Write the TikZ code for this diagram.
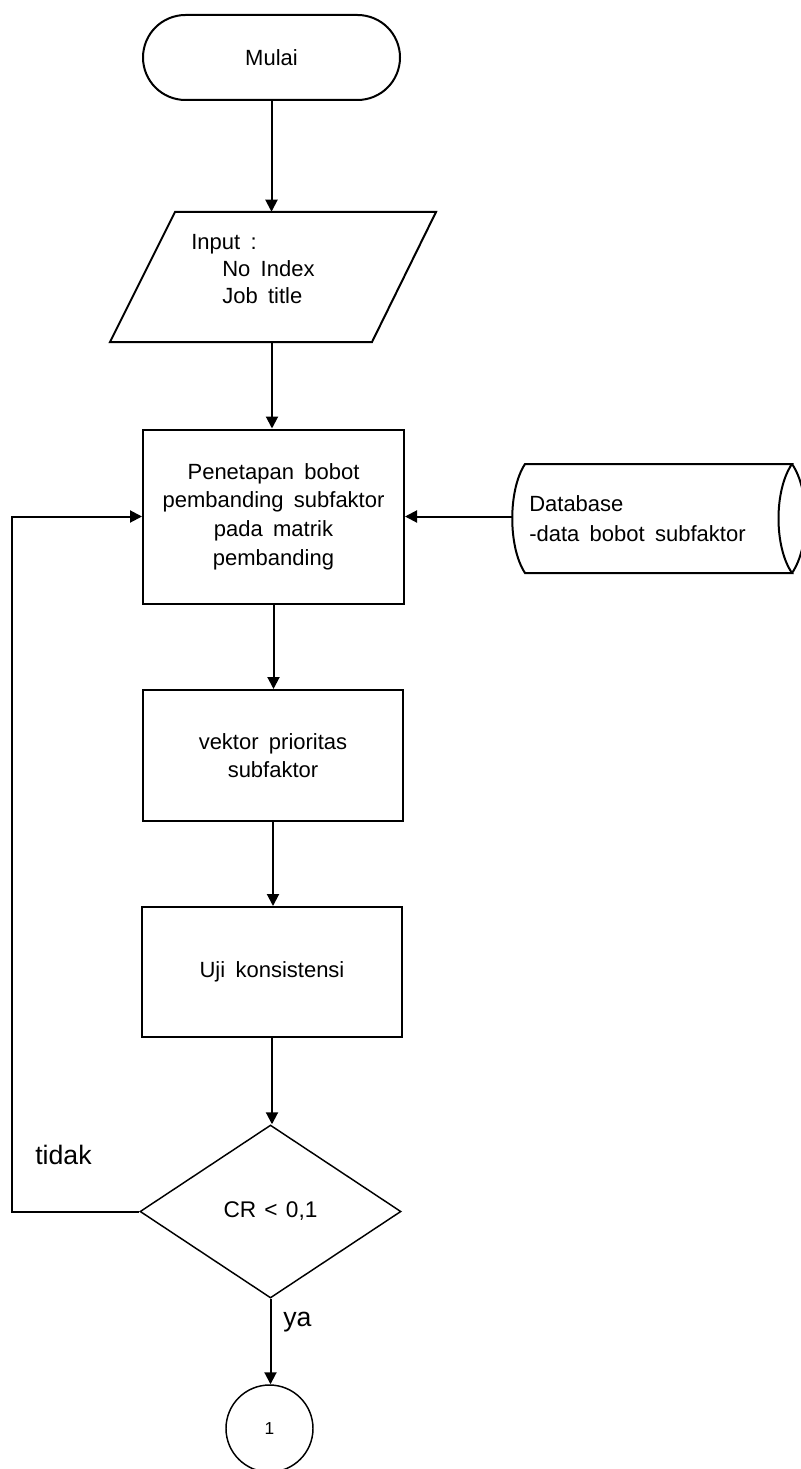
\documentclass[tikz,border=0pt]{standalone}
\usepackage{fontspec}
\setmainfont{Liberation Sans}
\newfontfamily\boxfont{Liberation Sans}[WordSpace=2.2]
\newfontfamily\inputfont{Liberation Sans}[WordSpace=1.3]
\usetikzlibrary{shapes.geometric,shapes.misc,arrows.meta}

\tikzset{
  line/.style={line width=1.5pt},
  flow/.style={line, -{Triangle[length=9pt,width=9pt]}},
  boxtext/.style={font={\boxfont\fontsize{16.5}{21.5}\selectfont}},
  terminal/.style={draw, line, rounded rectangle, minimum width=192.75pt,
    minimum height=63.75pt, inner sep=0pt, boxtext},
  procbox/.style={draw, line, rectangle, inner sep=0pt, align=center, boxtext},
  decision/.style={draw, line width=1.1pt, diamond, minimum width=195.75pt,
    minimum height=129.75pt, inner sep=0pt, font={\boxfont\fontsize{17}{20}\selectfont}},
  pageref/.style={draw, line width=1.1pt, circle, minimum size=65.25pt,
    inner sep=0pt, font={\fontsize{13}{15}\selectfont}},
  label/.style={inner sep=0pt, font={\fontsize{20}{24}\selectfont}},
  anchorbox/.style={inner sep=0pt, draw=none}
}

\begin{document}
\begin{tikzpicture}[x=0.75pt,y=-0.75pt]
  \useasboundingbox (0,0) rectangle (800,1469);

  % start terminal
  \node[terminal] (start) at (271.5,57.5) {Mulai};

  % input parallelogram
  \draw[line] (175,212) -- (436,212) -- (372,342) -- (110,342) -- cycle;
  \node[anchorbox, minimum width=150pt, minimum height=97.5pt] (inp) at (272,277) {};
  \node[anchor=north west, inner sep=0pt, align=left,
        font={\inputfont\fontsize{16.5}{20.25}\selectfont}] (inptext) at (191,234)
    {Input :\\\hspace*{23.25pt}No Index\\\hspace*{23.25pt}Job title};

  % process boxes
  \node[procbox, minimum width=195.75pt, minimum height=130.5pt] (weight) at (273.5,516.5)
    {Penetapan bobot\\pembanding subfaktor\\pada matrik\\pembanding};
  \node[procbox, minimum width=195pt, minimum height=98.25pt] (vector) at (273,755.5)
    {vektor prioritas\\subfaktor};
  \node[procbox, minimum width=195pt, minimum height=97.5pt] (test) at (272,972)
    {Uji konsistensi};

  % decision
  \node[decision] (dec) at (270.5,1211.5) {CR < 0,1};

  % off-page connector
  \node[pageref] (conn) at (269.5,1428.5) {1};

  % stored data (database)
  \draw[line] (525,464) -- (792,464)
    .. controls (774,490) and (774,547) .. (792,573) -- (525,573)
    .. controls (508,547) and (508,490) .. (525,464) -- cycle;
  \draw[line] (792,464) .. controls (810,490) and (810,547) .. (792,573);
  \node[anchorbox, minimum width=210pt, minimum height=81.75pt, anchor=west] (db) at (512,516.5) {};
  \node[anchor=north west, inner sep=0pt, align=left,
        font={\boxfont\fontsize{16.5}{22.5}\selectfont}] (dbtext) at (529,495)
    {Database\\-data bobot subfaktor};

  % labels
  \node[label, anchor=base west] (no) at (35,1164) {tidak};
  \node[label, anchor=base west] (yes) at (283,1326) {ya};

  % connectors
  \coordinate (loopx) at (12,1211.5);
  \draw[flow] (start.south) -- (start.south |- inp.north);
  \draw[flow] (inp.south) -- (inp.south |- weight.north);
  \draw[flow] (weight.south) -- (weight.south |- vector.north);
  \draw[flow] (vector.south) -- (vector.south |- test.north);
  \draw[flow] (test.south) -- (test.south |- dec.north);
  \draw[flow] (dec.south) -- (dec.south |- conn.north);
  \draw[flow] (dec.west) -- (loopx) |- (weight.west);
  \draw[flow] (db.west) -- (db.west -| weight.east);
\end{tikzpicture}
\end{document}
